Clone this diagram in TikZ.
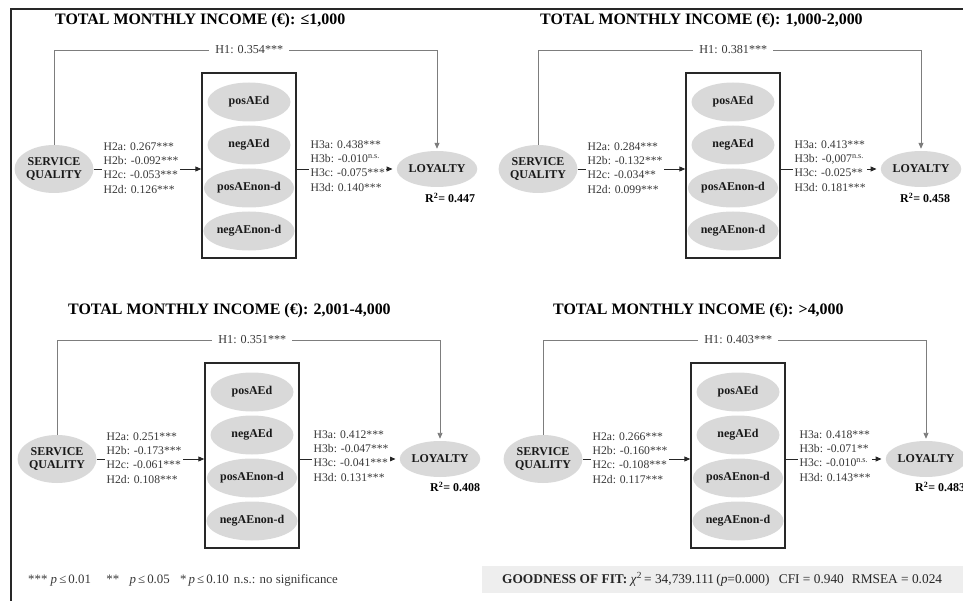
\documentclass[tikz,border=0pt]{standalone}
\usepackage{fontspec}
\setmainfont{Liberation Serif}
\usetikzlibrary{arrows.meta,shapes.geometric}

\definecolor{ovalgray}{RGB}{217,217,217}
\definecolor{fitgray}{RGB}{238,238,238}
\definecolor{pathgray}{RGB}{125,125,125}
\definecolor{txtgray}{RGB}{55,55,55}
\definecolor{framecol}{RGB}{40,40,40}

\tikzset{
  construct/.style={ellipse, fill=ovalgray, inner sep=0pt, align=center,
    text=black!90, font=\fontsize{12}{13.5}\selectfont\bfseries},
  sqnode/.style={construct, minimum width=74bp, minimum height=48bp},
  loynode/.style={construct, minimum width=70bp, minimum height=36bp},
  mednode/.style={construct, minimum width=83bp, minimum height=39bp},
  medbox/.style={draw=framecol, line width=1.4bp, inner sep=0pt,
    minimum width=94bp, minimum height=185bp},
  coef/.style={fill=white, inner xsep=1.5bp, inner ysep=0bp, align=left,
    anchor=west, text=txtgray, font=\fontsize{11.7}{14.3}\selectfont},
  hlabel/.style={fill=white, inner xsep=6bp, inner ysep=1bp, text=txtgray,
    font=\fontsize{12.2}{12.5}\selectfont},
  tip/.style={-{Triangle[length=6bp,width=5bp]}},
  directpath/.style={draw=pathgray, line width=0.9bp, tip},
  mainpath/.style={draw=black!85, line width=0.9bp, tip},
  paneltitle/.style={anchor=west, inner sep=0pt,
    font=\fontsize{16}{16}\selectfont\bfseries},
  rsq/.style={anchor=west, inner sep=0pt,
    font=\fontsize{12}{12}\selectfont\bfseries},
}

% #1 name prefix, #2/#3 origin (centre of SERVICE QUALITY / main path level),
% #4 title offset, #5 title, #6 H1, #7 H2 block, #8 H3 block
\newcommand{\incomepanel}[8]{%
\begin{scope}[shift={(#2,#3)}]
  \node[paneltitle] (#1title) at (#4,-147) {#5};
  \node[sqnode] (#1sq) at (0,1) {SERVICE\\QUALITY};
  \node[loynode] (#1loy) at (383,1) {LOYALTY};
  \node[medbox] (#1box) at (195,-2.5) {};
  \node[mednode] (#1ma) at (195,-66) {posAEd};
  \node[mednode] (#1mb) at (195,-23) {negAEd};
  \node[mednode] (#1mc) at (195,20) {posAEnon-d};
  \node[mednode] (#1md) at (195,63) {negAEnon-d};
  \coordinate (#1hl) at (0,-118);
  \coordinate (#1hr) at (383,-118);
  \draw[directpath, shorten >=2bp] (#1sq.north) -- (#1hl)
     -- node[hlabel, pos=0.51] (#1hone) {#6} (#1hr) -- (#1loy.north);
  \draw[mainpath] (#1sq.east) -- (#1sq.east -| #1box.west);
  \node[coef] (#1htwo) at (48,0) {#7};
  \draw[mainpath, shorten >=4bp] (#1box.east |- #1loy.west) -- (#1loy.west);
  \node[coef] (#1hthree) at (255,-2) {#8};
\end{scope}}

\newcommand{\ns}{\textsuperscript{n.s.}}

\begin{document}
\begin{tikzpicture}[x=1bp,y=-1bp]
  \clip (0,0) rectangle (963,601);

  % outer frame (left and top edges)
  \draw[framecol, line width=2.2bp] (11,605) -- (11,9) -- (970,9);

  \incomepanel{a}{54}{168}{1}{TOTAL MONTHLY INCOME (€): ≤1,000}{H1: 0.354***}
    {H2a: 0.267***\\H2b: -0.092***\\H2c: -0.053***\\H2d: 0.126***}
    {H3a: 0.438***\\H3b: -0.010\ns\\H3c: -0.075***\\H3d: 0.140***}
  \node[rsq] (ar) at (425,198) {R\textsuperscript{2}= 0.447};

  \incomepanel{b}{538}{168}{2}{TOTAL MONTHLY INCOME (€): 1,000-2,000}{H1: 0.381***}
    {H2a: 0.284***\\H2b: -0.132***\\H2c: -0.034**\\H2d: 0.099***}
    {H3a: 0.413***\\H3b: -0,007\ns\\H3c: -0.025**\\H3d: 0.181***}
  \node[rsq] (br) at (900,198) {R\textsuperscript{2}= 0.458};

  \incomepanel{c}{57}{458}{11}{TOTAL MONTHLY INCOME (€): 2,001-4,000}{H1: 0.351***}
    {H2a: 0.251***\\H2b: -0.173***\\H2c: -0.061***\\H2d: 0.108***}
    {H3a: 0.412***\\H3b: -0.047***\\H3c: -0.041***\\H3d: 0.131***}
  \node[rsq] (cr) at (430,487) {R\textsuperscript{2}= 0.408};

  \incomepanel{d}{543}{458}{10}{TOTAL MONTHLY INCOME (€): >4,000}{H1: 0.403***}
    {H2a: 0.266***\\H2b: -0.160***\\H2c: -0.108***\\H2d: 0.117***}
    {H3a: 0.418***\\H3b: -0.071**\\H3c: -0.010\ns\\H3d: 0.143***}
  \node[rsq] (dr) at (915,487) {R\textsuperscript{2}= 0.483};

  % significance legend
  \node[anchor=west, inner sep=0pt, text=txtgray, font=\fontsize{12.9}{13}\selectfont]
    (legend) at (28,580)
    {*** \textit{p}\,≤\,0.01\hspace{1.2em}**\hspace{0.8em}\textit{p}\,≤\,0.05\hspace{0.8em}*\,\textit{p}\,≤\,0.10\hspace{0.4em}n.s.: no significance};

  % goodness of fit strip
  \node[fill=fitgray, inner sep=0pt, minimum width=500bp, minimum height=27bp,
    anchor=west] (fitbg) at (482,579) {};
  \node[anchor=west, inner sep=0pt, text=black!85, font=\fontsize{13.4}{14}\selectfont]
    (fit) at (502,579)
    {\textbf{GOODNESS OF FIT:} \textit{χ}\textsuperscript{2}\,= 34,739.111\,(\textit{p}=0.000)\hspace{0.7em}CFI = 0.940\hspace{0.6em}RMSEA = 0.024};
\end{tikzpicture}
\end{document}
